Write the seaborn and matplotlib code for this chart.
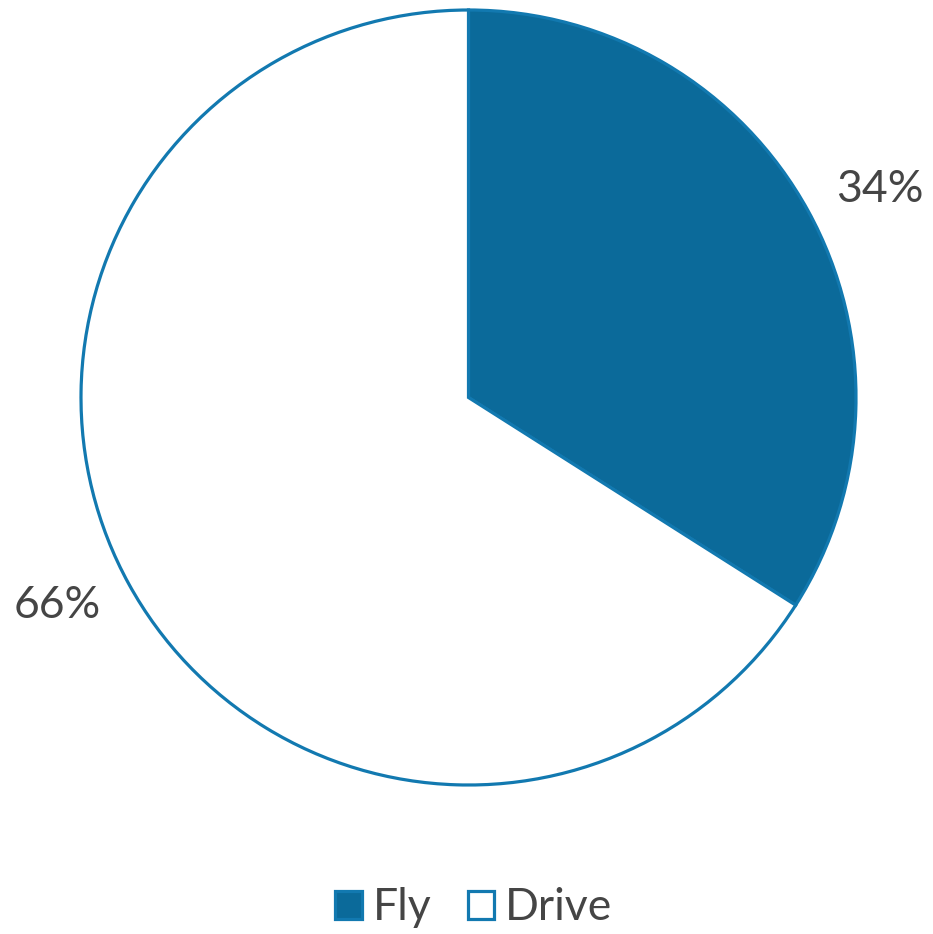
import matplotlib
matplotlib.use("Agg")
import matplotlib.pyplot as plt
import numpy as np
import seaborn as sns
from matplotlib.patches import Patch

sns.set_theme(style="white")
plt.rcParams['font.family'] = ['Lato', 'DejaVu Sans']

categories = ["Fly", "Drive"]
values = [34, 66]
fill_colors = ["#0b6a9a", "#ffffff"]
edge_color = "#1279b0"
text_color = "#454545"

W, H = 933, 934
cx, cy, R = 468.5, H - 397.5, 387.5
fig = plt.figure(figsize=(W / 100, H / 100), dpi=100)
ax = fig.add_axes([0, 0, 1, 1])

wedges, texts, autotexts = ax.pie(
    values, colors=fill_colors, startangle=90, counterclock=False,
    center=(cx, cy), radius=R, frame=True,
    autopct=lambda p: f"{p:.0f}%", pctdistance=1.19,
    wedgeprops=dict(edgecolor=edge_color, linewidth=2.3),
    textprops=dict(color=text_color, fontsize=32),
)
# nudge label angle slightly clockwise like the reference layout
for w, t in zip(wedges, autotexts):
    ang = np.deg2rad((w.theta1 + w.theta2) / 2 - 2)
    t.set_position((cx + 1.19 * R * np.cos(ang), cy + 1.19 * R * np.sin(ang)))

ax.set_xlim(0, W)
ax.set_ylim(0, H)
ax.set_aspect("equal")
ax.axis("off")

handles = [Patch(facecolor=fill_colors[i], edgecolor=edge_color, linewidth=2.3, label=c)
           for i, c in enumerate(categories)]
leg = fig.legend(handles=handles, loc="center", bbox_to_anchor=(474 / W, 1 - 908 / H),
                 ncol=2, frameon=False, prop=dict(size=32),
                 handlelength=0.6, handleheight=0.6,
                 handletextpad=0.25, columnspacing=0.8)
for t in leg.get_texts():
    t.set_color(text_color)

fig.savefig("out.png", dpi=100)
